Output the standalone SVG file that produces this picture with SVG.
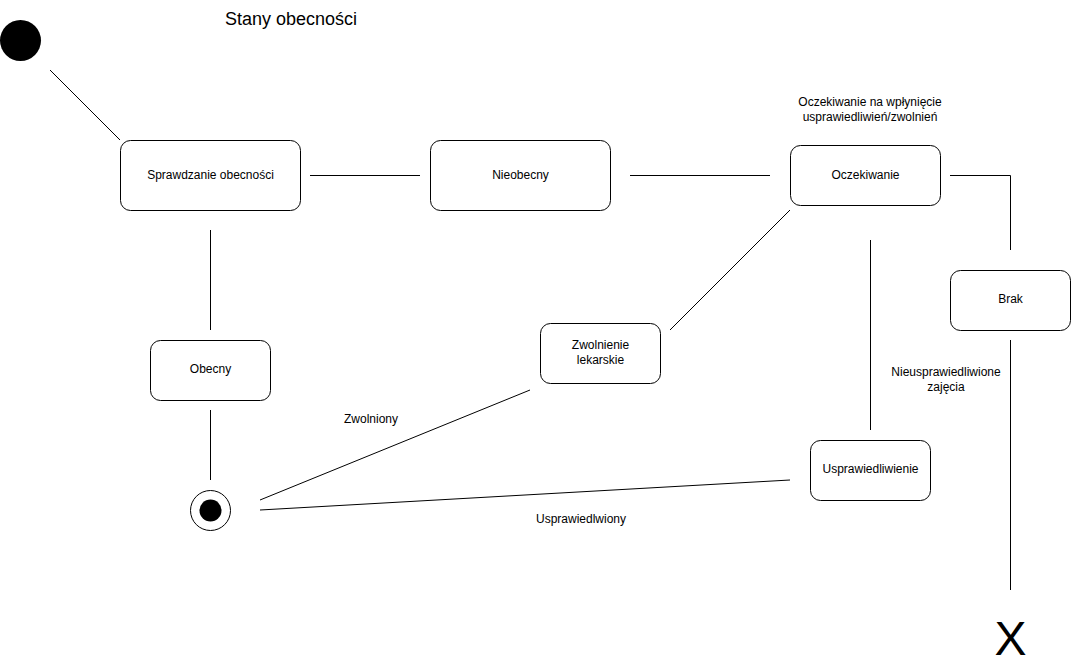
<svg xmlns="http://www.w3.org/2000/svg" width="1071" height="669" viewBox="0 0 1071 669">
<style>
.box{fill:#fff;stroke:#000;stroke-width:1}
.t{font-family:"Liberation Sans",Arial,sans-serif;font-size:12px;fill:#000;text-anchor:middle}
.c line,.c path{stroke:#000;stroke-width:1;fill:none}
</style>
<rect width="1071" height="669" fill="#fff"/>
<text x="225" y="25" style="font-family:'Liberation Sans',Arial,sans-serif;font-size:18px">Stany obecności</text>
<g class="c" id="connectors">
<line x1="50" y1="70" x2="120" y2="140"/>
<line x1="310" y1="175.5" x2="420" y2="175.5"/>
<line x1="630" y1="175.5" x2="770" y2="175.5"/>
<path d="M950 175.5H1010.5V250"/>
<line x1="1010.5" y1="340" x2="1010.5" y2="590"/>
<line x1="790" y1="210" x2="670" y2="330"/>
<line x1="530" y1="390" x2="260" y2="500"/>
<line x1="870.5" y1="240" x2="870.5" y2="430"/>
<line x1="790" y1="480" x2="260" y2="510"/>
<line x1="210.5" y1="230" x2="210.5" y2="330"/>
<line x1="210.5" y1="410" x2="210.5" y2="480"/>
</g>
<g id="start"><circle cx="20.5" cy="40.5" r="20.5" fill="#000"/></g>
<g id="sprawdzanie"><rect class="box" x="120.5" y="140.5" width="180" height="70" rx="10"/><text class="t" x="210.5" y="179">Sprawdzanie obecności</text></g>
<g id="nieobecny"><rect class="box" x="430.5" y="140.5" width="180" height="70" rx="10"/><text class="t" x="520.5" y="179">Nieobecny</text></g>
<g id="oczekiwanie"><rect class="box" x="790.5" y="145.5" width="150" height="60" rx="10"/><text class="t" x="865.5" y="179">Oczekiwanie</text>
<text class="t" x="870" y="106">Oczekiwanie na wpłynięcie</text><text class="t" x="870" y="121">usprawiedliwień/zwolnień</text></g>
<g id="brak"><rect class="box" x="950.5" y="270.5" width="120" height="60" rx="10"/><text class="t" x="1010.5" y="303">Brak</text></g>
<g id="zwolnienie"><rect class="box" x="540.5" y="323.5" width="120" height="60" rx="10"/><text class="t" x="600.5" y="349">Zwolnienie</text><text class="t" x="600.5" y="364">lekarskie</text></g>
<g id="usprawiedliwienie"><rect class="box" x="810.5" y="440.5" width="120" height="60" rx="10"/><text class="t" x="870.5" y="473">Usprawiedliwienie</text></g>
<g id="obecny"><rect class="box" x="150.5" y="340.5" width="120" height="60" rx="10"/><text class="t" x="210.5" y="373">Obecny</text></g>
<g id="end"><circle cx="210.5" cy="510.5" r="20" fill="#fff" stroke="#000"/><circle cx="210.5" cy="510.5" r="11" fill="#000"/></g>
<g id="x"><text x="1010.5" y="655" style="font-family:'Liberation Sans',Arial,sans-serif;font-size:48px;text-anchor:middle">X</text></g>
<text class="t" x="371" y="423">Zwolniony</text>
<text class="t" x="946" y="376">Nieusprawiedliwione</text>
<text class="t" x="946" y="391">zajęcia</text>
<text class="t" x="581" y="523">Usprawiedlwiony</text>
</svg>
